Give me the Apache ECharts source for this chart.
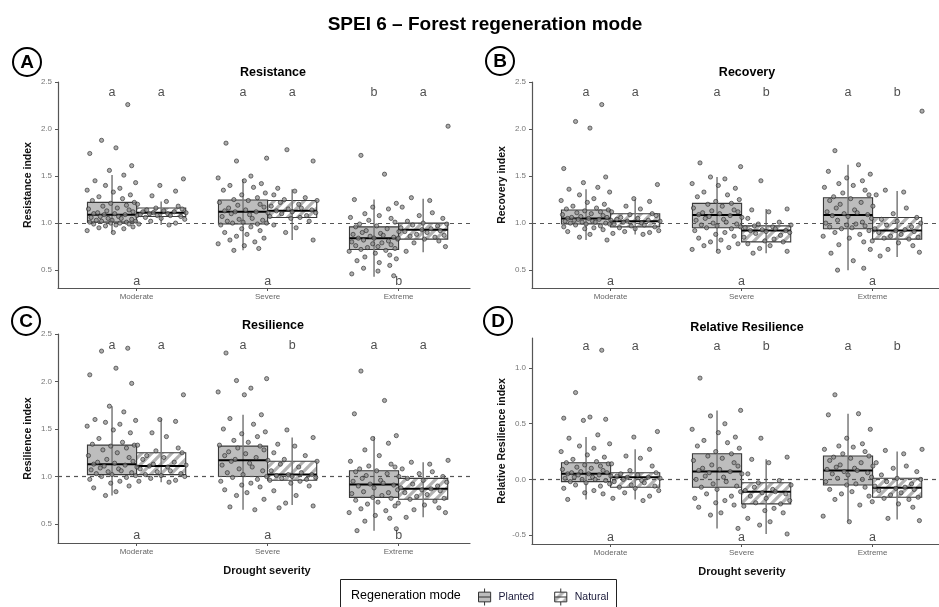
<!DOCTYPE html>
<html>
<head>
<meta charset="utf-8">
<script src="https://cdn.jsdelivr.net/npm/echarts@6/dist/echarts.min.js"></script>
<style>html,body{margin:0;padding:0;background:#fff}#main{width:939px;height:607px}</style>
</head>
<body>
<div id="main"></div>
<script>
// ---------------- DATA ----------------
const categories = ['Moderate', 'Severe', 'Extreme'];
const groups = ['Planted', 'Natural'];
const yTicksIndex = [0.5, 1.0, 1.5, 2.0, 2.5];
const yTicksRel = [-0.5, 0.0, 0.5, 1.0];
// horizontal jitter of the points (category units)
const jitterX = [0.12,-0.08,0.03,-0.17,0.15,-0.02,0.09,-0.13,0.18,-0.05,0.06,-0.19,0.01,0.14,-0.10,0.08,-0.15,0.17,-0.01,0.11,-0.07,0.04,-0.18,0.13,-0.04,0.16,-0.11,0.02,-0.14,0.10,-0.06,0.19,-0.09,0.05,-0.16,0.07,-0.03,0.15,-0.12,0.00,0.18,-0.08,0.11,-0.17,0.06,-0.01,0.13,-0.14,0.03,-0.05,0.16,-0.10,0.09,-0.19,0.01,0.12,-0.07,0.17,-0.13,0.04];

// Box stats: [lower whisker, Q1, median, Q3, upper whisker] per category
// A - Resistance
const resistanceBoxPlanted = [[0.90,1.01,1.09,1.22,1.51],[0.71,0.99,1.12,1.245,1.47],[0.43,0.72,0.84,0.96,1.25]];
const resistanceBoxNatural = [[0.98,1.07,1.11,1.16,1.23],[0.82,1.06,1.13,1.24,1.36],[0.69,0.83,0.93,1.00,1.26]];
const resistancePtsPlanted = [
 [2.26,1.88,1.80,1.74,1.61,1.56,1.51,1.45,1.43,1.40,1.37,1.35,1.33,1.30,1.28,1.26,1.24,1.22,1.21,1.19,1.18,1.16,1.15,1.14,1.13,1.12,1.11,1.10,1.10,1.09,1.09,1.08,1.07,1.07,1.06,1.05,1.05,1.04,1.03,1.03,1.02,1.02,1.01,1.01,1.00,1.00,0.99,0.99,0.98,0.97,0.96,0.95,0.94,0.92,0.90],
 [1.85,1.69,1.66,1.50,1.48,1.45,1.42,1.40,1.38,1.35,1.32,1.30,1.27,1.25,1.24,1.22,1.20,1.19,1.17,1.16,1.14,1.13,1.12,1.12,1.11,1.10,1.09,1.07,1.05,1.04,1.03,1.02,1.01,1.00,1.00,0.99,0.98,0.96,0.94,0.92,0.90,0.88,0.86,0.84,0.82,0.80,0.78,0.76,0.73,0.71],
 [1.72,1.52,1.25,1.21,1.17,1.15,1.10,1.08,1.06,1.05,1.03,1.01,0.99,0.97,0.96,0.94,0.92,0.91,0.90,0.89,0.88,0.87,0.86,0.85,0.84,0.84,0.83,0.82,0.81,0.80,0.79,0.78,0.77,0.76,0.75,0.74,0.73,0.72,0.71,0.70,0.68,0.66,0.64,0.62,0.60,0.58,0.55,0.52,0.49,0.46,0.44]
];
const resistancePtsNatural = [
 [1.47,1.40,1.34,1.29,1.23,1.20,1.18,1.16,1.15,1.14,1.13,1.12,1.12,1.11,1.11,1.10,1.10,1.09,1.08,1.08,1.07,1.06,1.05,1.04,1.02,1.00,0.99,0.98],
 [1.78,1.66,1.37,1.34,1.30,1.27,1.25,1.24,1.22,1.20,1.18,1.16,1.15,1.14,1.13,1.12,1.11,1.10,1.08,1.07,1.06,1.05,1.02,0.98,0.95,0.90,0.82],
 [2.03,1.27,1.24,1.17,1.11,1.08,1.05,1.02,1.00,0.99,0.98,0.97,0.95,0.94,0.93,0.92,0.91,0.90,0.88,0.87,0.86,0.85,0.84,0.83,0.81,0.79,0.75,0.70]
];
const resistanceLettersTop = ['a','a','a','a','b','a'];
const resistanceLettersBottom = ['a','a','b'];

// B - Recovery
const recoveryBoxPlanted = [[0.82,0.99,1.05,1.14,1.36],[0.70,0.95,1.085,1.21,1.49],[0.50,0.94,1.085,1.27,1.62]];
const recoveryBoxNatural = [[0.88,0.96,1.02,1.10,1.26],[0.68,0.80,0.92,0.97,1.15],[0.64,0.83,0.92,1.06,1.34]];
const recoveryPtsPlanted = [
 [2.26,2.08,2.01,1.58,1.49,1.43,1.38,1.36,1.33,1.30,1.26,1.24,1.22,1.20,1.18,1.16,1.15,1.14,1.13,1.12,1.11,1.10,1.09,1.08,1.07,1.06,1.06,1.05,1.05,1.04,1.04,1.03,1.03,1.02,1.02,1.01,1.01,1.00,1.00,0.99,0.99,0.98,0.97,0.96,0.95,0.94,0.93,0.91,0.88,0.85,0.82],
 [1.64,1.60,1.49,1.47,1.42,1.40,1.37,1.33,1.30,1.28,1.25,1.23,1.21,1.20,1.18,1.16,1.14,1.13,1.12,1.11,1.10,1.09,1.08,1.07,1.06,1.05,1.04,1.03,1.01,1.00,0.99,0.98,0.97,0.96,0.95,0.94,0.92,0.90,0.88,0.86,0.84,0.82,0.80,0.78,0.76,0.74,0.72,0.70],
 [1.77,1.62,1.55,1.52,1.48,1.45,1.42,1.40,1.38,1.35,1.32,1.30,1.28,1.26,1.24,1.22,1.20,1.18,1.16,1.14,1.12,1.11,1.10,1.09,1.08,1.07,1.05,1.03,1.01,1.00,0.99,0.98,0.97,0.96,0.95,0.94,0.92,0.90,0.88,0.86,0.84,0.80,0.77,0.72,0.68,0.60,0.52,0.50]
];
const recoveryPtsNatural = [
 [1.41,1.26,1.23,1.18,1.15,1.12,1.10,1.09,1.08,1.06,1.05,1.04,1.03,1.02,1.02,1.01,1.00,0.99,0.98,0.97,0.96,0.95,0.94,0.92,0.91,0.90,0.89,0.88],
 [1.45,1.15,1.14,1.12,1.05,1.01,0.99,0.98,0.97,0.96,0.95,0.94,0.93,0.92,0.92,0.91,0.90,0.89,0.87,0.85,0.83,0.81,0.80,0.78,0.76,0.73,0.70,0.68],
 [2.19,1.35,1.33,1.30,1.16,1.10,1.06,1.04,1.02,1.00,0.98,0.96,0.94,0.93,0.92,0.91,0.90,0.88,0.86,0.85,0.84,0.83,0.81,0.79,0.76,0.72,0.69,0.65]
];
const recoveryLettersTop = ['a','a','a','b','a','b'];
const recoveryLettersBottom = ['a','a','a'];

// C - Resilience
const resilienceBoxPlanted = [[0.80,1.02,1.13,1.33,1.74],[0.65,1.00,1.17,1.32,1.65],[0.43,0.78,0.915,1.06,1.42]];
const resilienceBoxNatural = [[0.94,1.02,1.11,1.25,1.61],[0.70,0.96,1.02,1.16,1.41],[0.57,0.76,0.87,0.98,1.15]];
const resiliencePtsPlanted = [
 [2.35,2.32,2.14,2.07,1.98,1.74,1.68,1.60,1.59,1.57,1.55,1.53,1.49,1.46,1.40,1.36,1.34,1.33,1.32,1.30,1.28,1.25,1.22,1.20,1.18,1.16,1.15,1.14,1.13,1.12,1.11,1.10,1.09,1.08,1.07,1.06,1.05,1.04,1.03,1.02,1.01,1.00,0.99,0.97,0.95,0.93,0.90,0.88,0.84,0.80],
 [2.30,2.03,2.01,1.93,1.89,1.86,1.65,1.61,1.55,1.50,1.47,1.45,1.42,1.38,1.36,1.33,1.32,1.30,1.28,1.26,1.24,1.22,1.20,1.18,1.17,1.16,1.14,1.12,1.10,1.08,1.06,1.04,1.02,1.00,0.99,0.97,0.95,0.93,0.91,0.89,0.86,0.83,0.80,0.76,0.68,0.65],
 [2.11,1.80,1.66,1.43,1.40,1.35,1.28,1.22,1.16,1.13,1.11,1.10,1.08,1.06,1.05,1.03,1.01,1.00,0.98,0.96,0.95,0.93,0.92,0.91,0.90,0.88,0.86,0.84,0.83,0.82,0.80,0.78,0.77,0.75,0.73,0.71,0.69,0.66,0.64,0.62,0.59,0.56,0.53,0.45,0.43]
];
const resiliencePtsNatural = [
 [1.86,1.60,1.58,1.46,1.42,1.33,1.30,1.27,1.25,1.22,1.20,1.18,1.15,1.13,1.12,1.11,1.10,1.08,1.06,1.05,1.03,1.02,1.01,1.00,0.98,0.96,0.95,0.94],
 [1.49,1.41,1.34,1.32,1.25,1.22,1.18,1.16,1.13,1.10,1.06,1.04,1.02,1.02,1.01,1.00,0.99,0.98,0.97,0.96,0.95,0.93,0.90,0.85,0.80,0.72,0.69,0.67],
 [1.17,1.15,1.13,1.08,1.05,1.03,1.00,0.98,0.96,0.94,0.92,0.90,0.88,0.87,0.86,0.85,0.83,0.81,0.79,0.77,0.76,0.74,0.72,0.70,0.67,0.65,0.62,0.57]
];
const resilienceLettersTop = ['a','a','a','b','a','a'];
const resilienceLettersBottom = ['a','a','b'];

// D - Relative Resilience
const relResBoxPlanted = [[-0.18,-0.02,0.05,0.15,0.38],[-0.44,-0.07,0.07,0.23,0.62],[-0.38,-0.05,0.08,0.21,0.59]];
const relResBoxNatural = [[-0.18,-0.07,0.02,0.06,0.27],[-0.49,-0.22,-0.11,-0.03,0.18],[-0.36,-0.16,-0.075,0.01,0.25]];
const relResPtsPlanted = [
 [1.16,0.78,0.56,0.55,0.54,0.53,0.40,0.37,0.32,0.30,0.28,0.25,0.22,0.20,0.18,0.16,0.15,0.14,0.13,0.12,0.11,0.10,0.09,0.08,0.07,0.06,0.06,0.05,0.05,0.04,0.04,0.03,0.02,0.02,0.01,0.00,0.00,-0.01,-0.02,-0.03,-0.04,-0.05,-0.06,-0.08,-0.10,-0.12,-0.13,-0.18],
 [0.91,0.62,0.57,0.50,0.45,0.42,0.38,0.35,0.33,0.30,0.28,0.25,0.23,0.21,0.19,0.17,0.15,0.13,0.12,0.10,0.09,0.08,0.07,0.06,0.05,0.03,0.02,0.00,-0.02,-0.04,-0.06,-0.07,-0.09,-0.11,-0.13,-0.15,-0.17,-0.19,-0.21,-0.23,-0.25,-0.30,-0.32,-0.44],
 [0.76,0.59,0.58,0.45,0.37,0.32,0.30,0.29,0.27,0.25,0.23,0.21,0.20,0.19,0.17,0.15,0.13,0.12,0.11,0.10,0.09,0.08,0.07,0.06,0.05,0.04,0.02,0.01,0.00,-0.02,-0.04,-0.05,-0.07,-0.09,-0.11,-0.13,-0.15,-0.18,-0.23,-0.33,-0.38]
];
const relResPtsNatural = [
 [0.43,0.38,0.27,0.21,0.19,0.14,0.12,0.08,0.06,0.05,0.04,0.03,0.02,0.02,0.01,0.00,-0.01,-0.02,-0.03,-0.05,-0.06,-0.07,-0.08,-0.10,-0.12,-0.15,-0.17,-0.19],
 [0.37,0.20,0.18,0.15,0.05,-0.01,-0.03,-0.05,-0.07,-0.09,-0.10,-0.11,-0.12,-0.13,-0.15,-0.17,-0.19,-0.21,-0.22,-0.24,-0.26,-0.28,-0.30,-0.35,-0.38,-0.41,-0.49],
 [0.27,0.26,0.23,0.15,0.12,0.10,0.07,0.04,0.01,0.00,-0.02,-0.04,-0.06,-0.07,-0.08,-0.09,-0.10,-0.12,-0.14,-0.16,-0.17,-0.18,-0.20,-0.22,-0.25,-0.35,-0.37]
];
const relResLettersTop = ['a','a','a','b','a','b'];
const relResLettersBottom = ['a','a','a'];

// ---------------- LAYOUT ----------------
const FONT = 'Liberation Sans, Arial, sans-serif';
const panels = [
 {badge:'A', title:'Resistance', yName:'Resistance index', xName:null,
  grid:{left:58, top:82, width:412, height:206}, xMax:3.545, yMin:0.31, yMax:2.5, ticks:yTicksIndex, ref:1,
  topY:2.39, botY:0.38, titlePos:[268,71], badgePos:[27,62],
  boxP:resistanceBoxPlanted, boxN:resistanceBoxNatural, ptsP:resistancePtsPlanted, ptsN:resistancePtsNatural,
  lt:resistanceLettersTop, lb:resistanceLettersBottom},
 {badge:'B', title:'Recovery', yName:'Recovery index', xName:null,
  grid:{left:532, top:82, width:407, height:206}, xMax:3.507, yMin:0.31, yMax:2.5, ticks:yTicksIndex, ref:1,
  topY:2.39, botY:0.38, titlePos:[742,71], badgePos:[500,61],
  boxP:recoveryBoxPlanted, boxN:recoveryBoxNatural, ptsP:recoveryPtsPlanted, ptsN:recoveryPtsNatural,
  lt:recoveryLettersTop, lb:recoveryLettersBottom},
 {badge:'C', title:'Resilience', yName:'Resilience index', xName:'Drought severity', xNamePad:6,
  grid:{left:58, top:334, width:412, height:209}, xMax:3.545, yMin:0.3, yMax:2.5, ticks:yTicksIndex, ref:1,
  topY:2.38, botY:0.38, titlePos:[268,324], badgePos:[26,321],
  boxP:resilienceBoxPlanted, boxN:resilienceBoxNatural, ptsP:resiliencePtsPlanted, ptsN:resiliencePtsNatural,
  lt:resilienceLettersTop, lb:resilienceLettersBottom},
 {badge:'D', title:'Relative Resilience', yName:'Relative Resilience index', xName:'Drought severity', xNamePad:13,
  grid:{left:532, top:338, width:407, height:206}, xMax:3.507, yMin:-0.58, yMax:1.27, ticks:yTicksRel, ref:0,
  topY:1.19, botY:-0.52, titlePos:[742,326], badgePos:[498,321],
  boxP:relResBoxPlanted, boxN:relResBoxNatural, ptsP:relResPtsPlanted, ptsN:relResPtsNatural,
  lt:relResLettersTop, lb:relResLettersBottom}
];

const DODGE = 0.1875, BOXW = 0.375;
const PLANTED_FILL = '#bdbdbd';
// hatch pattern for Natural
const pc = document.createElement('canvas');
pc.width = 10; pc.height = 10;
const pctx = pc.getContext('2d');
pctx.fillStyle = '#b3b3b3'; pctx.fillRect(0,0,10,10);
pctx.strokeStyle = '#ffffff'; pctx.lineWidth = 3.8;
[[0,10,10,0],[-5,5,5,-5],[5,15,15,5]].forEach(l => {pctx.beginPath(); pctx.moveTo(l[0],l[1]); pctx.lineTo(l[2],l[3]); pctx.stroke();});
const NATURAL_FILL = {image: pc, repeat: 'repeat'};

function boxRender(fill) {
  return function(params, api) {
    const x = api.value(0);
    const lo = api.coord([x, api.value(1)]);
    const q1 = api.coord([x, api.value(2)]);
    const md = api.coord([x, api.value(3)]);
    const q3 = api.coord([x, api.value(4)]);
    const hi = api.coord([x, api.value(5)]);
    const w = api.size([BOXW, 0])[0];
    const cx = lo[0];
    return {type:'group', children:[
      {type:'rect', shape:{x:cx - w/2, y:q3[1], width:w, height:q1[1]-q3[1]},
       style:{fill:fill, stroke:'#3a3a3a', lineWidth:1.1}},
      {type:'line', shape:{x1:cx, y1:hi[1], x2:cx, y2:lo[1]}, style:{stroke:'#7a7a7a', lineWidth:1.5}},
      {type:'line', shape:{x1:cx - w/2, y1:md[1], x2:cx + w/2, y2:md[1]}, style:{stroke:'#000', lineWidth:2}}
    ]};
  };
}

const LEGEND_ICON = 'path://M5,0L5,3M0,3L10,3L10,11L0,11ZM5,11L5,14M0,7L10,7';
const option = {
  animation:false, backgroundColor:'#fff',
  textStyle:{fontFamily:FONT},
  title:[{text:'SPEI 6 – Forest regeneration mode', left:480, top:10, textAlign:'center',
          textStyle:{fontSize:19, fontWeight:'bold', color:'#000', fontFamily:FONT}}],
  grid:[], xAxis:[], yAxis:[], series:[],
  legend:{left:478, top:588, orient:'horizontal', itemWidth:18, itemHeight:17, itemGap:20, z:10, padding:0,
    textStyle:{fontSize:10.5, color:'#1a1a3a', fontFamily:FONT},
    data:[
      {name:'Planted', icon:LEGEND_ICON, itemStyle:{color:PLANTED_FILL, borderColor:'#333', borderWidth:1}},
      {name:'Natural', icon:LEGEND_ICON, itemStyle:{color:NATURAL_FILL, borderColor:'#333', borderWidth:1}}
    ]},
  graphic:[
    {type:'rect', z:1, shape:{x:340.5, y:579.5, width:276, height:40}, style:{fill:'#fff', stroke:'#222', lineWidth:1}},
    {type:'text', z:2, x:351, y:596, style:{text:'Regeneration mode', font:'12.5px ' + FONT, fill:'#000', verticalAlign:'middle'}}
  ]
};

panels.forEach((p, i) => {
  option.grid.push(Object.assign({outerBoundsMode:'none', containLabel:false}, p.grid));
  option.title.push({text:p.title, left:p.titlePos[0], top:p.titlePos[1]-10, textAlign:'center',
     textStyle:{fontSize:12.5, fontWeight:'bold', color:'#000', fontFamily:FONT}});
  option.graphic.push({type:'circle', shape:{cx:p.badgePos[0], cy:p.badgePos[1], r:14}, style:{fill:'#fff', stroke:'#000', lineWidth:2}});
  option.graphic.push({type:'text', x:p.badgePos[0], y:p.badgePos[1]+1, style:{text:p.badge, font:'bold 19px ' + FONT, fill:'#000', align:'center', verticalAlign:'middle'}});
  option.xAxis.push({gridIndex:i, type:'value', min:0.4, max:p.xMax, splitLine:{show:false},
    axisLine:{show:true, onZero:false, lineStyle:{color:'#555', width:1.2}},
    axisTick:{show:true, length:3, customValues:[1,2,3], lineStyle:{color:'#555'}},
    axisLabel:{customValues:[1,2,3], formatter:v => categories[Math.round(v)-1], fontSize:8, color:'#666', margin:5},
    name:p.xName || '', nameLocation:'middle', nameGap:22,
    nameTextStyle:{fontSize:11, fontWeight:'bold', color:'#111', padding:[0,0,0,p.xNamePad||0]}});
  option.yAxis.push({gridIndex:i, type:'value', min:p.yMin, max:p.yMax, splitLine:{show:false},
    axisLine:{show:true, onZero:false, lineStyle:{color:'#555', width:1.2}},
    axisTick:{show:true, length:3, customValues:p.ticks, lineStyle:{color:'#555'}},
    axisLabel:{customValues:p.ticks, formatter:v => v.toFixed(1), fontSize:8, color:'#777', margin:6},
    name:p.yName, nameLocation:'middle', nameGap:24,
    nameTextStyle:{fontSize:10.5, fontWeight:'bold', color:'#111'}});
  // boxes
  [[p.boxP, -DODGE, 'Planted', PLANTED_FILL],[p.boxN, DODGE, 'Natural', NATURAL_FILL]].forEach(b => {
    option.series.push({type:'custom', name:b[2], xAxisIndex:i, yAxisIndex:i, z:2,
      renderItem:boxRender(b[3]), encode:{x:0, y:[1,2,3,4,5]},
      data:b[0].map((s, c) => [c + 1 + b[1]].concat(s))});
  });
  // jittered points
  [[p.ptsP, -DODGE, 'Planted', 0],[p.ptsN, DODGE, 'Natural', 17]].forEach((g, gi) => {
    const data = [];
    g[0].forEach((vals, c) => vals.forEach((v, k) => data.push([c + 1 + g[1] + jitterX[(k + g[3] + c*7) % jitterX.length], v])));
    const s = {type:'scatter', name:g[2], xAxisIndex:i, yAxisIndex:i, z:4, symbol:'circle', symbolSize:4.2,
      itemStyle:{color:'rgba(140,140,140,0.9)', borderColor:'#2a2a2a', borderWidth:0.8}, data:data, silent:true};
    if (gi === 0) {
      s.markLine = {silent:true, symbol:'none', label:{show:false}, z:3,
        lineStyle:{type:[4,4], color:'#555', width:1.2}, data:[{yAxis:p.ref}]};
    }
    option.series.push(s);
  });
  // significance letters
  const letterData = [];
  p.lt.forEach((l, k) => letterData.push({name:l, value:[Math.floor(k/2) + 1 + (k % 2 ? DODGE : -DODGE), p.topY]}));
  p.lb.forEach((l, c) => letterData.push({name:l, value:[c + 1, p.botY]}));
  option.series.push({type:'scatter', xAxisIndex:i, yAxisIndex:i, z:5, symbolSize:0.01, silent:true,
    label:{show:true, position:'inside', formatter:'{b}', fontSize:12.5, color:'#222', fontFamily:FONT},
    data:letterData});
});

const chart = echarts.init(document.getElementById('main'), null, {renderer:'canvas'});
chart.setOption(option);
</script>
</body>
</html>
